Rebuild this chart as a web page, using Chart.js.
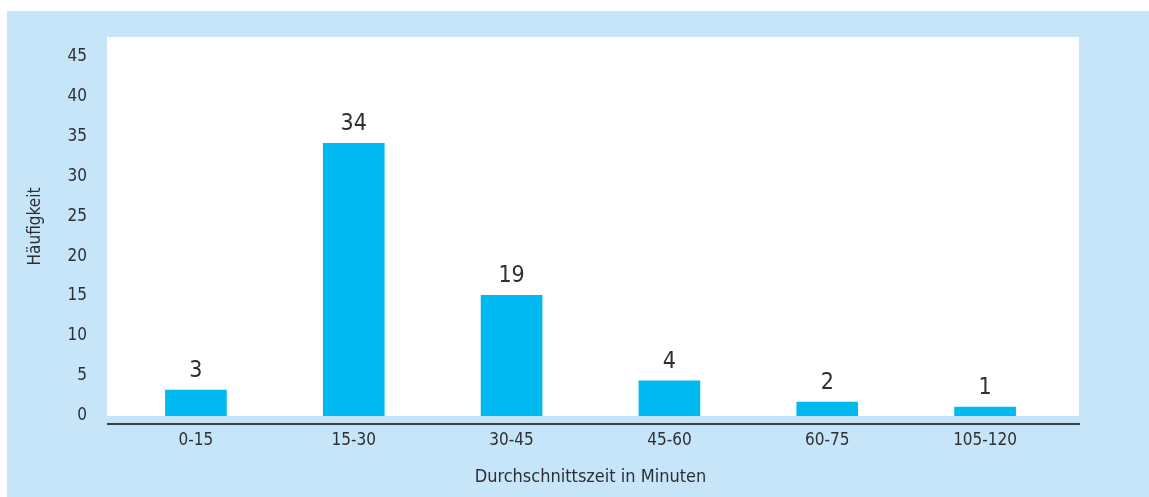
<!DOCTYPE html>
<html>
<head>
<meta charset="utf-8">
<script src="https://cdn.jsdelivr.net/npm/chart.js@4"></script>
<style>
  html, body { margin: 0; padding: 0; background: #ffffff; }
  #wrap { position: relative; width: 1149px; height: 497px; }
</style>
</head>
<body>
<div id="wrap"><canvas id="c" width="1149" height="497"></canvas></div>
<script>
// ---- data ----
const categories = ["0-15", "15-30", "30-45", "45-60", "60-75", "105-120"];
const barHeights = [3.25, 34.1, 15.1, 4.4, 1.75, 1.1];      // heights as drawn in the picture
const printedLabels = ["3", "34", "19", "4", "2", "1"];     // numbers printed above bars
const yTicks = [0, 5, 10, 15, 20, 25, 30, 35, 40, 45];
const yTitle = "Häufigkeit";
const xTitle = "Durchschnittszeit in Minuten";

const FONT = "'Liberation Sans Narrow', 'DejaVu Sans Condensed', 'Arial Narrow', sans-serif";
const TEXT = "#2e2f33";
const PANEL = "#c7e5f8";
const BAR = "#00b9f0";

const backgroundPlugin = {
  id: 'bgPanel',
  beforeDraw(chart) {
    const {ctx, chartArea} = chart;
    ctx.save();
    ctx.fillStyle = '#ffffff';
    ctx.fillRect(0, 0, chart.width, chart.height);
    ctx.fillStyle = PANEL;
    ctx.fillRect(7, 11, chart.width - 7, chart.height - 11);
    ctx.fillStyle = '#ffffff';
    ctx.fillRect(chartArea.left - 10, chartArea.top, (chartArea.right - chartArea.left) + 25, chartArea.bottom - chartArea.top);
    ctx.restore();
  },
  afterDatasetsDraw(chart) {
    const {ctx, chartArea} = chart;
    ctx.save();
    // axis line below plot panel
    ctx.strokeStyle = '#3b3e43';
    ctx.lineWidth = 2;
    ctx.beginPath();
    ctx.moveTo(chartArea.left - 10, chartArea.bottom + 8);
    ctx.lineTo(chartArea.right + 16, chartArea.bottom + 8);
    ctx.stroke();
    // printed values above bars
    const meta = chart.getDatasetMeta(0);
    ctx.fillStyle = TEXT;
    ctx.font = "23px " + FONT;
    ctx.textAlign = 'center';
    ctx.textBaseline = 'alphabetic';
    meta.data.forEach((bar, i) => {
      ctx.fillText(printedLabels[i], bar.x, bar.y - 13);
    });
    ctx.restore();
  }
};

new Chart(document.getElementById('c'), {
  type: 'bar',
  data: {
    labels: categories,
    datasets: [{
      data: barHeights,
      backgroundColor: BAR,
      borderWidth: 0,
      barThickness: 61
    }]
  },
  options: {
    responsive: false,
    animation: false,
    devicePixelRatio: 1,
    layout: { padding: { left: 0, right: 85, top: 37, bottom: 0 } },
    plugins: { legend: { display: false }, tooltip: { enabled: false } },
    scales: {
      x: {
        grid: { display: false, drawTicks: false },
        border: { display: false },
        ticks: { color: TEXT, font: { family: FONT, size: 17 }, padding: 14, maxRotation: 0 },
        title: { display: true, text: xTitle, color: TEXT, font: { family: FONT, size: 18 }, padding: { top: 9, bottom: 9 } },
        afterFit(s) { s.height = 81; }
      },
      y: {
        min: 0,
        max: 47.4,
        grid: { display: false, drawTicks: false },
        border: { display: false },
        ticks: { color: TEXT, font: { family: FONT, size: 17 }, padding: 30, stepSize: 5 },
        afterBuildTicks(s) { s.ticks = yTicks.map(v => ({ value: v })); },
        title: { display: true, text: yTitle, color: TEXT, font: { family: FONT, size: 17 }, padding: { top: 25, bottom: 0 } },
        afterFit(s) { s.width = 117; s.paddingTop = 10; s.paddingBottom = 10; }
      }
    }
  },
  plugins: [backgroundPlugin]
});
</script>
</body>
</html>
